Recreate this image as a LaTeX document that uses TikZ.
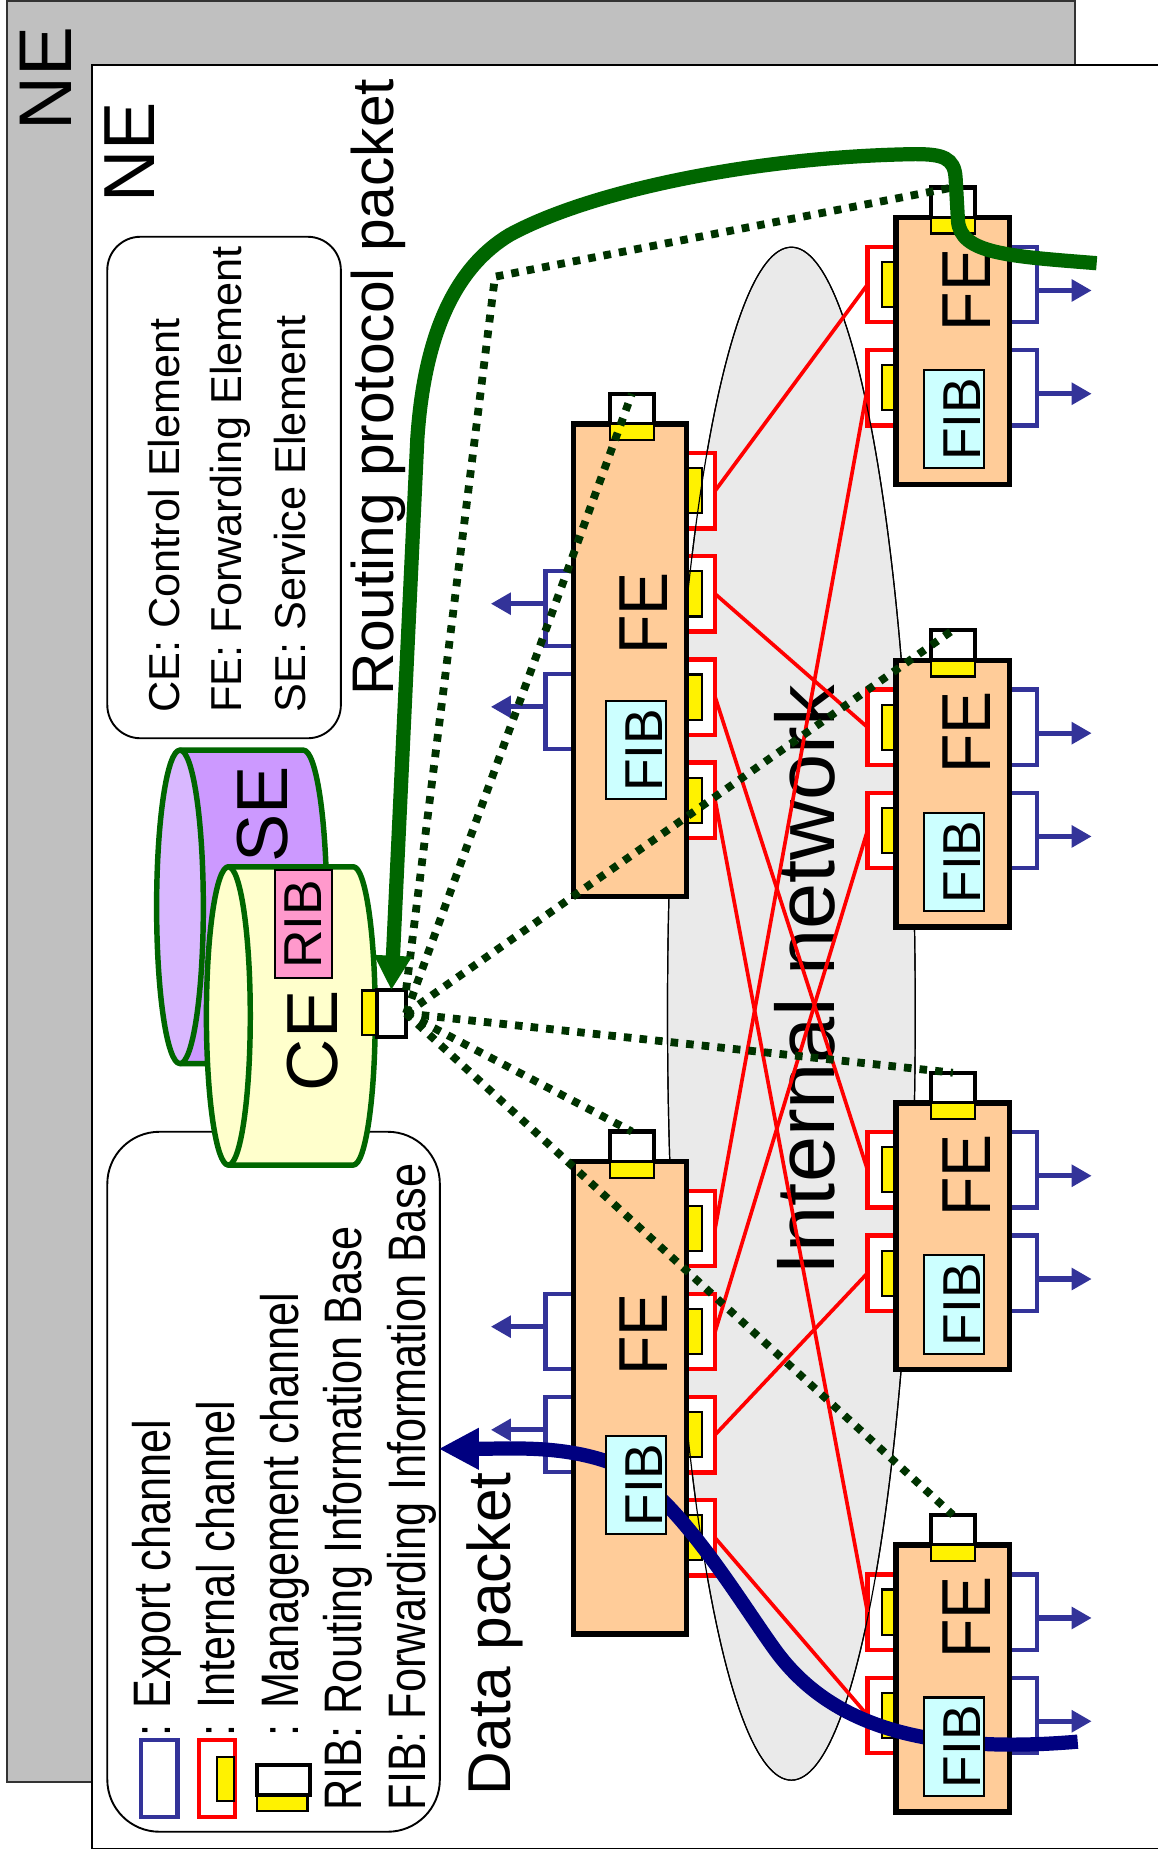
\documentclass[tikz,border=0pt]{standalone}
\usepackage{fontspec}
\setmainfont{Liberation Sans}
\usetikzlibrary{arrows.meta}

\definecolor{framegray}{HTML}{C0C0C0}
\definecolor{fefill}{HTML}{FFCC99}
\definecolor{fibfill}{HTML}{CCFFFF}
\definecolor{ribfill}{HTML}{FF99CC}
\definecolor{cefill}{HTML}{FFFFCC}
\definecolor{sebody}{HTML}{CC99FF}
\definecolor{seface}{HTML}{D9B8FF}
\definecolor{netgray}{HTML}{EAEAEA}
\definecolor{expblue}{HTML}{333399}
\definecolor{mgmtgreen}{HTML}{003300}
\definecolor{rppgreen}{HTML}{006600}
\definecolor{datanavy}{HTML}{000080}

\newcommand{\fsz}[1]{\fontsize{#1}{#1}\selectfont}

\begin{document}
\begin{tikzpicture}[
    x=1pt, y=-1pt,
    every node/.style = {inner sep=0pt, outer sep=0pt},
    vtext/.style   = {rotate=90},
    keytxt/.style  = {rotate=90, font=\fsz{36.5}},
    keybot/.style  = {rotate=90, xscale=0.82, font=\fsz{44.5}},
    fetxt/.style   = {rotate=90, xscale=0.93, font=\fsz{58.5}},
    fibtxt/.style  = {rotate=90, font=\fsz{45}},
    febox/.style   = {draw=black, line width=4.6pt, fill=fefill, minimum width=95.5pt},
    intport/.style = {draw=red, line width=3.6pt, fill=white, minimum width=24pt, minimum height=63.5pt},
    expport/.style = {draw=expblue, line width=3.6pt, fill=white, minimum width=24pt, minimum height=63.5pt},
    intbar/.style  = {draw=black, line width=1.8pt, fill=yellow, minimum width=12pt, minimum height=38pt},
    mgport/.style  = {draw=black, line width=3.6pt, fill=white, minimum width=37pt, minimum height=25.5pt},
    mgbar/.style   = {draw=black, line width=2pt, fill=yellow, minimum width=37pt, minimum height=13.5pt},
    fibbox/.style  = {draw=black, line width=1.8pt, fill=fibfill, minimum width=51pt, minimum height=83pt},
    cyl/.style     = {draw=rppgreen, line width=4.6pt, line join=round},
    intlink/.style = {draw=red, line width=3.1pt},
    expout/.style  = {draw=expblue, line width=4.4pt, -{Triangle[length=17pt, width=18pt]}},
    mglink/.style  = {draw=mgmtgreen, line width=6.6pt, dash pattern=on 6.4pt off 6.8pt},
    rpp/.style     = {draw=rppgreen, line width=12pt, -{Triangle[length=29pt, width=30pt]}},
    datap/.style   = {draw=datanavy, line width=12pt, -{Triangle[length=34pt, width=33pt]}}
]
\useasboundingbox (0,0) rectangle (976,1568);

% the two NE frames
\node[draw=black!80, line width=1.6pt, fill=framegray, minimum width=900.8pt, minimum height=1502.2pt, anchor=north west] (neback) at (6.2,0.8) {};
\node[draw=black, line width=1.6pt, fill=white, minimum width=912pt, minimum height=1504.3pt, anchor=north west] (nefront) at (77.8,54.8) {};
\node[vtext, font=\fsz{63}] (netag1) at (39,66) {NE};
\node[vtext, font=\fsz{61}] (netag2) at (109,128.5) {NE};

% legend, element names
\node[draw=black, line width=1.6pt, rounded corners=28pt, minimum width=197pt, minimum height=423pt, anchor=north west] (keytop) at (90.5,199.7) {};
\node[keytxt, anchor=base west] (kce) at (151.8,601) {CE: Control Element};
\node[keytxt, anchor=base west] (kfe) at (203.9,601) {FE: Forwarding Element};
\node[keytxt, anchor=base west] (kse) at (257.3,601) {SE: Service Element};

% legend, channels and tables
\node[draw=black, line width=1.6pt, rounded corners=44pt, minimum width=280.5pt, minimum height=590.4pt, anchor=north west] (keybot) at (90.5,954.6) {};
\node[expport, minimum width=31pt, minimum height=64.7pt] (keyexp) at (134.2,1500) {};
\node[intport, minimum width=30.3pt, minimum height=64.7pt] (keyint) at (183,1500) {};
\node[intbar, minimum width=14.4pt, minimum height=37pt] (keyintbar) at (190.5,1500.4) {};
\node[mgport, minimum width=45pt, minimum height=25.3pt] (keymg) at (239,1501.5) {};
\node[mgbar, minimum width=42.7pt, minimum height=12.4pt] (keymgbar) at (237.9,1521.2) {};
\node[keybot, anchor=base west] (kexp) at (144.2,1464.8) {: Export channel};
\node[keybot, anchor=base west] (kint) at (198.2,1464.8) {: Internal channel};
\node[keybot, anchor=base west] (kmg) at (251.6,1464.8) {: Management channel};
\node[keybot, anchor=base west] (krib) at (305,1527) {RIB: Routing Information Base};
\node[keybot, anchor=base west] (kfib) at (358.5,1527) {FIB: Forwarding Information Base};

% packet captions
\node[vtext, font=\fsz{49.5}, anchor=base west] (rpptxt) at (332,586.5) {Routing protocol packet};
\node[vtext, font=\fsz{51}, anchor=base west] (dptxt) at (430.2,1514) {Data packet};

% internal network
\draw[line width=1pt, fill=netgray] (667.5,855) ellipse [x radius=104.5pt, y radius=646.5pt];
\node[vtext, font=\fsz{70}, anchor=base west] (nettxt) at (703.5,1075.6) {Internal network};

% ports of the right FEs
\foreach \k/\yy in {1/183.6, 2/557, 3/930.3, 4/1303.3} {
  \node[intport] (fe\k-i1) at (743.7,\yy+56.4) {};
  \node[intport] (fe\k-i2) at (743.7,\yy+143.5) {};
  \node[intbar] at (750,\yy+56.4) {};
  \node[intbar] at (750,\yy+143.5) {};
  \node[expport] (fe\k-x1) at (862.8,\yy+56.4) {};
  \node[expport] (fe\k-x2) at (862.8,\yy+143.5) {};
  \draw[expout] ([yshift=-5pt]fe\k-x1.east) -- ++(46,0);
  \draw[expout] ([yshift=-5pt]fe\k-x2.east) -- ++(46,0);
}

% ports of the left FEs
\foreach \k/\yy/\xo in {a/357.7/155.5, b/979.9/143.1} {
  \foreach \j in {1,...,4}
    \node[intport] (fe\k-i\j) at (591.2,\yy+56.25+87*\j-87) {};
  \foreach \j in {1,...,4}
    \node[intbar] at (585.8,\yy+56.25+87*\j-87) {};
  \node[expport] (fe\k-x1) at (472,\yy+\xo) {};
  \node[expport] (fe\k-x2) at (472,\yy+\xo+87) {};
  \draw[expout] ([yshift=4pt]fe\k-x1.west) -- ++(-46,0);
  \draw[expout] ([yshift=4pt]fe\k-x2.west) -- ++(-46,0);
}

% ellipse outline again, over the ports
\draw[line width=1pt] (667.5,855) ellipse [x radius=104.5pt, y radius=646.5pt];

% FE boxes with management ports
\foreach \k/\yy in {1/183.6, 2/557, 3/930.3, 4/1303.3} {
  \node[febox, minimum height=225pt, anchor=north west] (fe\k) at (755.8,\yy) {};
  \node[mgport, anchor=south] (fe\k-m) at (803.7,\yy) {};
  \node[mgbar, anchor=north] at (803.7,\yy) {};
  \node[fetxt] at (815.4,\yy+61) {FE};
}
\foreach \k/\yy/\ft in {a/357.7/159.6, b/979.9/145.7} {
  \node[febox, minimum height=398.3pt, anchor=north west] (fe\k) at (483.6,\yy) {};
  \node[mgport, anchor=south] (fe\k-m) at (532.9,\yy) {};
  \node[mgbar, anchor=north] at (532.9,\yy) {};
  \node[fetxt] at (543.1,\yy+\ft) {FE};
}

% SE and CE
\draw[cyl, fill=sebody] (151.8,632.7) -- (255.9,632.7) arc[start angle=90, end angle=-90, x radius=19.7pt, y radius=132.2pt] -- (151.8,897.1) -- cycle;
\draw[cyl, fill=seface] (151.8,764.9) ellipse [x radius=19.7pt, y radius=132.2pt];
\node[vtext, font=\fsz{61}] (setxt) at (221.4,686.8) {SE};
\draw[cyl, fill=cefill] (192.6,731.1) -- (298,731.1) arc[start angle=90, end angle=-90, x radius=18.5pt, y radius=125.8pt] -- (192.6,982.7) -- cycle;
\draw[cyl, fill=cefill] (192.6,856.9) ellipse [x radius=18.5pt, y radius=125.8pt];
\node[draw=black, line width=1.8pt, fill=ribfill, rotate=90, minimum width=91.3pt, minimum height=47.8pt, font=\fsz{45}] (rib) at (255.9,779.5) {RIB};
\node[vtext, font=\fsz{61}] (cetxt) at (263.6,878) {CE};
\node[mgbar, minimum width=12pt, minimum height=37.5pt] (cebar) at (311.2,854.3) {};
\node[mgport, minimum width=24.8pt, minimum height=39.4pt] (cemg) at (330.1,854.8) {};

% internal channels
\draw[intlink] (fea-i1.east) -- (fe1-i1.west);
\draw[intlink] (fea-i2.east) -- (fe2-i1.west);
\draw[intlink] (fea-i3.east) -- (fe3-i1.west);
\draw[intlink] (fea-i4.east) -- (fe4-i1.west);
\draw[intlink] (feb-i1.east) -- (fe1-i2.west);
\draw[intlink] (feb-i2.east) -- (fe2-i2.west);
\draw[intlink] (feb-i3.east) -- (fe3-i2.west);
\draw[intlink] (feb-i4.east) -- (fe4-i2.west);

% management channels from the CE
\coordinate (mgbend) at (417.5,233.4);
\draw[mglink] (cemg.north east) -- (mgbend) -- (fe1-m.north);
\draw[mglink] (cemg.east) -- (fea-m.north);
\draw[mglink] (cemg.east) -- (fe2-m.north);
\draw[mglink] (cemg.east) -- (fe3-m.north);
\draw[mglink] (cemg.east) -- (feb-m.north);
\draw[mglink] (cemg.east) -- (fe4-m.north);

% routing protocol packet, in at the top FE and up to the CE
\coordinate (rppin) at (925,222);
\draw[rpp] (rppin) .. controls (850,216) and (810,214) .. (808,186) -- (806,150)
  .. controls (805,133) and (795,130) .. (772,130)
  .. controls (640,132) and (500,160) .. (430,198)
  .. controls (385,225) and (358,280) .. (352,370) -- (cemg.north);

% data packet, through the FIBs
\coordinate (dpin) at (909,1469);
\coordinate (dpout) at (370,1222);
\draw[datap] (dpin) .. controls (780,1480) and (700,1455) .. (654,1392)
  .. controls (620,1345) and (565,1250) .. (510,1232)
  .. controls (470,1219) and (430,1222) .. (dpout);

% FIB tables
\foreach \k/\yy in {1/183.6, 2/557, 3/930.3, 4/1303.3} {
  \node[fibbox] (fe\k-fib) at (804.5,\yy+170) {};
  \node[fibtxt] at ([xshift=6.7pt]fe\k-fib.center) {FIB};
}
\node[fibbox] (fea-fib) at (536.5,632.7) {};
\node[fibtxt] at ([xshift=7pt]fea-fib.center) {FIB};
\node[fibbox] (feb-fib) at (536.5,1252.5) {};
\node[fibtxt] at ([xshift=7pt]feb-fib.center) {FIB};

\end{tikzpicture}
\end{document}
